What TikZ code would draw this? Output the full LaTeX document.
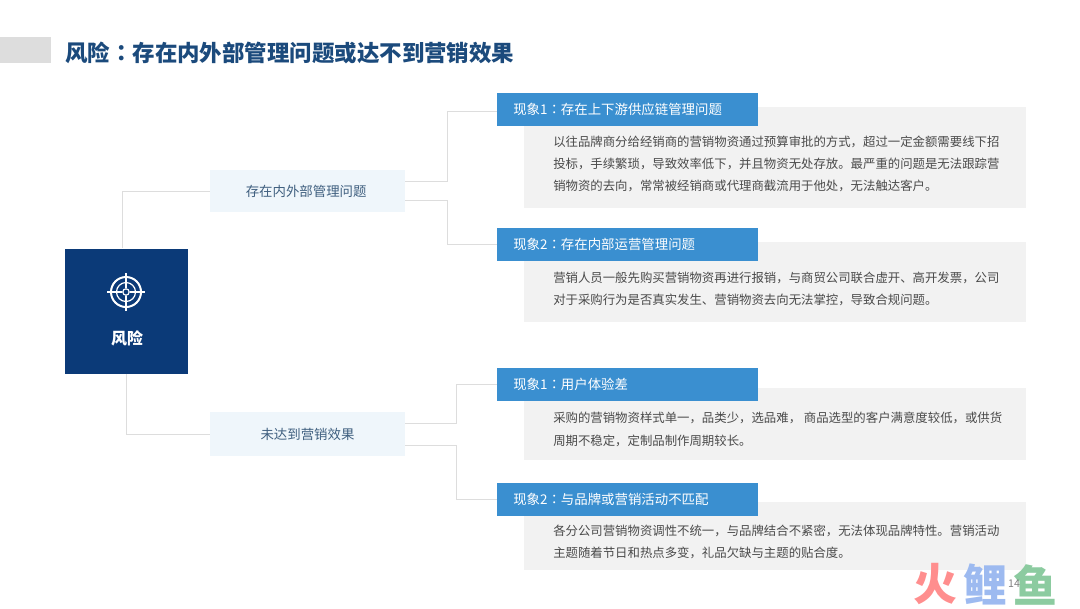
\documentclass[tikz,border=0pt]{standalone}
\usepackage{fontspec}
\setmainfont{Noto Sans CJK SC}
\newfontfamily\colonfont{Noto Sans CJK TC}
\usetikzlibrary{calc}
\definecolor{rootblue}{HTML}{0B3A78}
\definecolor{headblue}{HTML}{3A8FD0}
\definecolor{titleblue}{HTML}{1B4A7C}
\definecolor{midfill}{HTML}{EFF6FB}
\definecolor{bodyfill}{HTML}{F2F2F2}
\definecolor{linkgray}{HTML}{DDDDDD}
\definecolor{bodytext}{HTML}{4A4A4A}
\definecolor{midtext}{HTML}{3F5F7F}
\definecolor{logored}{HTML}{FF8E8E}
\definecolor{logoblue}{HTML}{9DBAF0}
\definecolor{logogreen}{HTML}{8CCBA0}
\def\sz#1{\fontsize{#1}{#1}\selectfont}
\def\cln{{\colonfont ：}}
\tikzset{
	rootbox/.style={fill=rootblue, minimum width=123*0.75bp, minimum height=125*0.75bp, inner sep=0, text=white},
	midbox/.style={fill=midfill, minimum width=195*0.75bp, minimum height=42*0.75bp, inner sep=0, text=midtext, font=\sz{10.1}},
	headbox/.style={fill=headblue, minimum width=261*0.75bp, minimum height=33*0.75bp, inner sep=0},
	headline/.style={anchor=west, inner sep=0, text=white, font=\sz{10.1}},
	bodybox/.style={fill=bodyfill, minimum width=502*0.75bp, inner sep=0},
	bodyline/.style={anchor=west, align=left, inner sep=0, text=bodytext, font=\sz{9.33}},
	link/.style={draw=linkgray, line width=0.6pt},
	logo/.style={inner sep=0, font=\sz{33}\bfseries}
}
\begin{document}
\begin{tikzpicture}[x=0.75bp, y=-0.75bp]
	%%%%% START %%%%%
	\useasboundingbox (0, 0) rectangle (1080, 608);
	
	\fill[linkgray] (0, 37) rectangle (51, 63);
	\node[anchor=west, inner sep=0, text=titleblue, font=\sz{16.9}\bfseries] (title) at (65, 53) {风险\cln 存在内外部管理问题或达不到营销效果};
	
	\node[bodybox, minimum height=101*0.75bp] (body1) at (775, 157.5) {};
	\node[bodybox, minimum height=80*0.75bp] (body2) at (775, 282) {};
	\node[bodybox, minimum height=72*0.75bp] (body3) at (775, 424) {};
	\node[bodybox, minimum height=68*0.75bp] (body4) at (775, 536) {};
	
	\node[rootbox] (root) at (126.5, 311) {};
	\node[inner sep=0, text=white, font=\sz{12}\bfseries] (rootlabel) at (127, 338) {风险};
	
	\draw[white, line width=1.5pt] (126, 292) circle (15);
	\draw[white, line width=0.9pt] (126, 292) circle (9.5);
	\draw[white, line width=0.9pt] (126, 292) circle (3.2);
	\draw[white, line width=0.9pt] (126, 273) -- (126, 288) (126, 296) -- (126, 311);
	\draw[white, line width=0.9pt] (107, 292) -- (122, 292) (130, 292) -- (145, 292);
	
	\node[midbox] (mid1) at (307.5, 191) {\hspace*{-2bp}存在内外部管理问题};
	\node[midbox, minimum height=44*0.75bp] (mid2) at (307.5, 434) {未达到营销效果};
	
	\node[headbox] (head1) at (627.5, 109) {};
	\node[headbox] (head2) at (627.5, 244.5) {};
	\node[headbox] (head3) at (627.5, 384.5) {};
	\node[headbox] (head4) at (627.5, 499.5) {};
	
	\node[headline] (label1) at (513, 109) {现象1\cln 存在上下游供应链管理问题};
	\node[headline] (label2) at (513, 244.5) {现象2\cln 存在内部运营管理问题};
	\node[headline] (label3) at (513, 384.5) {现象1\cln 用户体验差};
	\node[headline] (label4) at (513, 499.5) {现象2\cln 与品牌或营销活动不匹配};
	
	\node[bodyline] (text1a) at (553, 141.5) {以往品牌商分给经销商的营销物资通过预算审批的方式，超过一定金额需要线下招};
	\node[bodyline] (text1b) at (553, 163.5) {投标，手续繁琐，导致效率低下，并且物资无处存放。最严重的问题是无法跟踪营};
	\node[bodyline] (text1c) at (553, 186) {销物资的去向，常常被经销商或代理商截流用于他处，无法触达客户。};
	
	\node[bodyline] (text2a) at (553, 277.5) {营销人员一般先购买营销物资再进行报销，与商贸公司联合虚开、高开发票，公司};
	\node[bodyline] (text2b) at (553, 300) {对于采购行为是否真实发生、营销物资去向无法掌控，导致合规问题。};
	
	\node[bodyline] (text3a) at (553, 418) {采购的营销物资样式单一，品类少，选品难， 商品选型的客户满意度较低，或供货};
	\node[bodyline] (text3b) at (553, 441) {周期不稳定，定制品制作周期较长。};
	
	\node[bodyline] (text4a) at (553, 531) {各分公司营销物资调性不统一，与品牌结合不紧密，无法体现品牌特性。营销活动};
	\node[bodyline] (text4b) at (553, 553) {主题随着节日和热点多变，礼品欠缺与主题的贴合度。};
	
	\draw[link] ($(root.north)+(-4, 0)$) |- (mid1.west);
	\draw[link] (root.south) |- (mid2.west);
	
	\draw[link] ($(mid1.east)+(0, -10)$) -- ++(42, 0) |- ($(head1.west)+(0, 2)$);
	\draw[link] ($(mid1.east)+(0, 9)$) -- ++(42, 0) |- (head2.west);
	\draw[link] ($(mid2.east)+(0, -11)$) -- ++(51, 0) |- (head3.west);
	\draw[link] ($(mid2.east)+(0, 11)$) -- ++(51, 0) |- (head4.west);
	
	\node[logo, text=logored] (logofire) at (935, 584.5) {火};
	\node[logo, text=logoblue] (logocarp) at (985, 584.5) {鲤};
	\node[logo, text=logogreen] (logofish) at (1035, 584.5) {鱼};
	\node[inner sep=0, text=black!50, font=\sz{8}] (pagenum) at (1014, 584) {14};
	%%%%% END %%%%%
\end{tikzpicture}
\end{document}
